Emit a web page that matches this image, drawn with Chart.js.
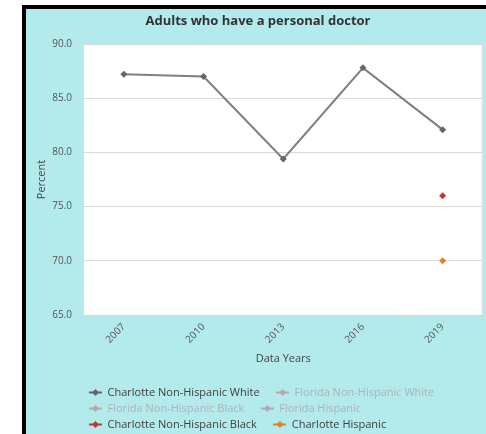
<!DOCTYPE html>
<html>
<head>
<meta charset="utf-8">
<script src="https://cdn.jsdelivr.net/npm/chart.js@4"></script>
<style>
  html, body { margin: 0; padding: 0; background: #ffffff; }
  #frame {
    position: absolute; left: 22px; top: 5px;
    width: 460px; height: 425px;
    border-left: 4px solid #000; border-top: 4px solid #000;
    background: #b3eaec; overflow: hidden;
  }
  #c { display: block; }
</style>
</head>
<body>
<div id="frame"><canvas id="c" width="460" height="431"></canvas></div>
<script>
// Survey years on the x axis
const years = ['2007', '2010', '2013', '2016', '2019'];

// Percent of adults with a personal doctor, by group
const charlotteNHWhite = [87.2, 87.0, 79.4, 87.8, 82.1];
const floridaNHWhite = [];
const floridaNHBlack = [];
const floridaHispanic = [];
const charlotteNHBlack = [null, null, null, null, 76.0];
const charlotteHispanic = [null, null, null, null, 70.0];

// Value axis range
const yMin = 65;
const yMax = 90;
const yStep = 5;

const FONT = "'Open Sans', 'Liberation Sans', sans-serif";

// Legend marker: short line with a diamond in the middle
function legendMarker(color) {
  const cv = document.createElement('canvas');
  cv.width = 13; cv.height = 7;
  const g = cv.getContext('2d');
  g.strokeStyle = color; g.lineWidth = 2;
  g.beginPath(); g.moveTo(0, 3.5); g.lineTo(13, 3.5); g.stroke();
  g.fillStyle = color;
  g.beginPath(); g.moveTo(6.5, 0); g.lineTo(10, 3.5); g.lineTo(6.5, 7); g.lineTo(3, 3.5); g.closePath(); g.fill();
  return cv;
}

const series = [
  { label: 'Charlotte Non-Hispanic White', data: charlotteNHWhite, color: '#7f7f7f', point: '#666666', hidden: false, text: '#404040', marker: '#666666' },
  { label: 'Florida Non-Hispanic White', data: floridaNHWhite, color: '#c9a9a9', point: '#c9a9a9', hidden: true, text: '#a9b4b6', marker: '#bfa6a6' },
  { label: 'Florida Non-Hispanic Black', data: floridaNHBlack, color: '#c9a9a9', point: '#c9a9a9', hidden: true, text: '#a9b4b6', marker: '#bfa6a6' },
  { label: 'Florida Hispanic', data: floridaHispanic, color: '#b9aab9', point: '#b9aab9', hidden: true, text: '#a9b4b6', marker: '#b3a7b3' },
  { label: 'Charlotte Non-Hispanic Black', data: charlotteNHBlack, color: '#c0392b', point: '#c0392b', hidden: false, text: '#404040', marker: '#c0392b' },
  { label: 'Charlotte Hispanic', data: charlotteHispanic, color: '#e67e22', point: '#e67e22', hidden: false, text: '#404040', marker: '#e67e22' }
];

const markers = series.map(s => legendMarker(s.marker));

// White plotting area with a faint right edge
const plotBackground = {
  id: 'plotBackground',
  beforeDraw(chart) {
    const { ctx, chartArea: a } = chart;
    ctx.save();
    ctx.fillStyle = '#ffffff';
    ctx.fillRect(a.left, a.top, a.right - a.left, a.bottom - a.top);
    ctx.strokeStyle = '#dcdcdc';
    ctx.lineWidth = 1;
    ctx.beginPath();
    ctx.moveTo(a.right - 0.5, a.top);
    ctx.lineTo(a.right - 0.5, a.bottom);
    ctx.stroke();
    ctx.restore();
  }
};

new Chart(document.getElementById('c'), {
  type: 'line',
  data: {
    labels: years,
    datasets: series.map(s => ({
      label: s.label,
      data: s.data,
      hidden: s.hidden,
      borderColor: s.color,
      backgroundColor: s.point,
      borderWidth: 2,
      pointStyle: 'rectRot',
      pointRadius: 3.5,
      pointHoverRadius: 3.5,
      pointBackgroundColor: s.point,
      pointBorderWidth: 0,
      tension: 0,
      spanGaps: false
    }))
  },
  options: {
    responsive: false,
    animation: false,
    devicePixelRatio: 1,
    layout: { padding: { left: 5, right: 1, top: 0, bottom: 0 } },
    plugins: {
      title: {
        display: true,
        text: 'Adults who have a personal doctor',
        color: '#333333',
        font: { family: FONT, size: 13, weight: 'bold' },
        padding: { top: 4, bottom: 15.4 }
      },
      legend: {
        display: true,
        position: 'bottom',
        align: 'start',
        fullSize: false,
        onClick: null,
        labels: {
          usePointStyle: true,
          pointStyleWidth: 13,
          padding: 5,
          font: { family: FONT, size: 11 },
          generateLabels(chart) {
            return chart.data.datasets.map((ds, i) => ({
              text: ds.label + '    ',
              fontColor: series[i].text,
              fillStyle: series[i].marker,
              strokeStyle: series[i].marker,
              lineWidth: 0,
              pointStyle: markers[i],
              hidden: false,
              datasetIndex: i
            }));
          }
        }
      },
      tooltip: { enabled: false }
    },
    scales: {
      x: {
        type: 'category',
        offset: true,
        afterFit(scale) { scale.height = 67; },
        grid: {
          offset: true,
          drawOnChartArea: false,
          drawTicks: true,
          tickLength: 6,
          color: '#c9dcdd'
        },
        border: { display: false },
        ticks: {
          color: '#555555',
          font: { family: FONT, size: 10 },
          minRotation: 45,
          maxRotation: 45,
          padding: 0
        },
        title: {
          display: true,
          text: 'Data Years',
          color: '#444444',
          font: { family: FONT, size: 11 },
          padding: { top: 0, bottom: 16.6 }
        }
      },
      y: {
        min: yMin,
        max: yMax,
        afterFit(scale) { scale.width = 53; },
        grid: {
          color: '#d9d9d9',
          lineWidth: 1,
          drawTicks: false
        },
        border: { display: false },
        ticks: {
          stepSize: yStep,
          color: '#555555',
          font: { family: FONT, size: 10 },
          padding: 12,
          callback: v => Number(v).toFixed(1)
        },
        title: {
          display: true,
          text: 'Percent',
          color: '#444444',
          font: { family: FONT, size: 11 },
          padding: { top: 4.4, bottom: 0 }
        }
      }
    }
  },
  plugins: [plotBackground]
});
</script>
</body>
</html>
